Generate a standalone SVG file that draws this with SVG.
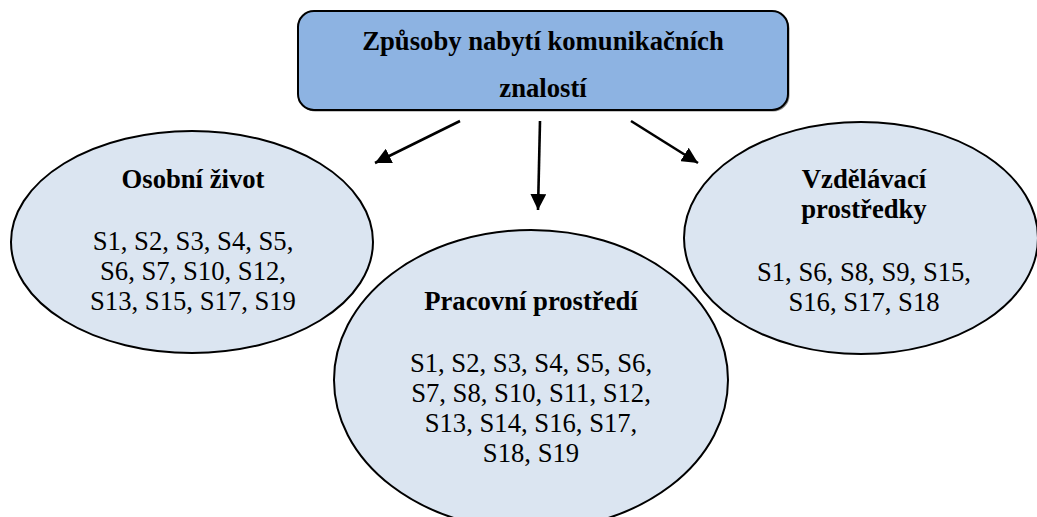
<svg xmlns="http://www.w3.org/2000/svg" width="1037" height="517" viewBox="0 0 1037 517" font-family="'Liberation Serif', 'Times New Roman', 'DejaVu Serif', serif">
  <style>
    .head { fill: #8DB3E2; stroke: #000; stroke-width: 2; }
    .shade { fill: #404040; opacity: 0.6; }
    .oval { fill: #DBE5F1; stroke: #000; stroke-width: 2; }
    .t { font-family: 'Liberation Serif', 'Times New Roman', 'DejaVu Serif', serif; font-size: 26.67px; fill: #000; text-anchor: middle; }
    .b { font-weight: bold; }
    .conn { stroke: #000; stroke-width: 2.6; fill: none; marker-end: url(#arrow); }
  </style>
  <defs>
    <marker id="arrow" markerUnits="userSpaceOnUse" markerWidth="16" markerHeight="16" viewBox="0 0 16 16" refX="16" refY="8" orient="auto">
      <path d="M0,0 L16,8 L0,16 Z" fill="#000"/>
    </marker>
  </defs>

  <!-- top heading box with a thin drop shadow -->
  <g id="root">
    <rect class="shade" x="299.5" y="12.5" width="490" height="99" rx="16" ry="16"/>
    <rect class="head" x="298" y="11" width="490" height="99" rx="16" ry="16"/>
    <text class="t b" x="543" y="50">Způsoby nabytí komunikačních</text>
    <text class="t b" x="543" y="97">znalostí</text>
  </g>

  <!-- category ellipses -->
  <g id="osobni">
    <ellipse class="oval" cx="192" cy="242" rx="181" ry="111"/>
    <text class="t b" x="193" y="188">Osobní život</text>
    <text class="t" x="193" y="250">S1, S2, S3, S4, S5,</text>
    <text class="t" x="193" y="280">S6, S7, S10, S12,</text>
    <text class="t" x="193" y="310">S13, S15, S17, S19</text>
  </g>

  <g id="vzdelavaci">
    <ellipse class="oval" cx="861" cy="238" rx="177" ry="116"/>
    <text class="t b" x="864" y="188">Vzdělávací</text>
    <text class="t b" x="864" y="218">prostředky</text>
    <text class="t" x="864" y="281">S1, S6, S8, S9, S15,</text>
    <text class="t" x="864" y="311">S16, S17, S18</text>
  </g>

  <g id="pracovni">
    <ellipse class="oval" cx="531" cy="380" rx="197" ry="150"/>
    <text class="t b" x="531" y="310">Pracovní prostředí</text>
    <text class="t" x="531" y="372">S1, S2, S3, S4, S5, S6,</text>
    <text class="t" x="531" y="402">S7, S8, S10, S11, S12,</text>
    <text class="t" x="531" y="432">S13, S14, S16, S17,</text>
    <text class="t" x="531" y="462">S18, S19</text>
  </g>

  <!-- connectors -->
  <g id="connectors">
    <line class="conn" x1="460" y1="121" x2="375" y2="163"/>
    <line class="conn" x1="540" y1="121" x2="538" y2="210"/>
    <line class="conn" x1="631" y1="121" x2="698" y2="163"/>
  </g>
</svg>
